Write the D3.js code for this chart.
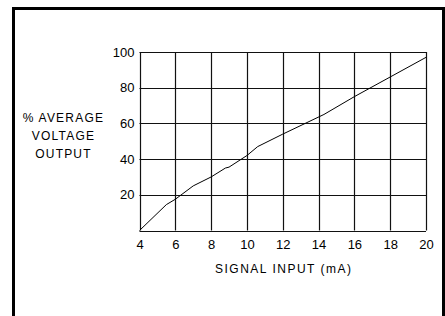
<!DOCTYPE html>
<html>
<head>
<meta charset="utf-8">
<script src="https://cdn.jsdelivr.net/npm/d3@7"></script>
<style>
  html, body { margin: 0; padding: 0; background: #fff; }
  svg { display: block; }
  text { font-family: "Liberation Sans", Arial, sans-serif; fill: #000; }
</style>
</head>
<body>
<svg id="chart" width="445" height="316"></svg>
<script>
const signalInput = [4, 5.5, 6, 7, 8, 8.8, 9, 10, 10.6, 12, 14.3, 16, 18, 20];
const avgVoltage  = [0, 14.5, 17.5, 25, 30, 35, 35.5, 42, 47, 54, 65, 75, 86, 97];
const xTicks = [4, 6, 8, 10, 12, 14, 16, 18, 20];
const yTicks = [20, 40, 60, 80, 100];
const yLabelLines = ["% AVERAGE", "VOLTAGE", "OUTPUT"];
const xLabel = "SIGNAL INPUT (mA)";

(function () {
const svg = d3.select("#chart");
const pL = 139.5, pR = 426, pT = 52, pB = 230.5;
const FONT = "Liberation Sans, Arial, sans-serif";

const x = d3.scaleLinear().domain([4, 20]).range([pL, pR]);
const y = d3.scaleLinear().domain([0, 100]).range([pB, pT]);

// outer frame
svg.append("rect")
  .attr("x", 13.5).attr("y", 8.5).attr("width", 430).attr("height", 320)
  .attr("fill", "none").attr("stroke", "#000").attr("stroke-width", 3);

// grid
const g = svg.append("g");
g.selectAll(".vgrid").data(xTicks).enter().append("line")
  .attr("x1", d => Math.round(x(d)) + 0.5).attr("x2", d => Math.round(x(d)) + 0.5)
  .attr("y1", pT).attr("y2", pB)
  .attr("stroke", "#111").attr("stroke-width", 1.2);
g.selectAll(".hgrid").data([0].concat(yTicks)).enter().append("line")
  .attr("x1", pL).attr("x2", pR)
  .attr("y1", d => Math.round(y(d)) + 0.5).attr("y2", d => Math.round(y(d)) + 0.5)
  .attr("stroke", "#111").attr("stroke-width", 1.2);

// axes labels via d3 axes (no domain/ticks lines)
const xAxis = svg.append("g")
  .attr("transform", `translate(0,${pB})`)
  .call(d3.axisBottom(x).tickValues(xTicks).tickSize(0).tickPadding(9).tickFormat(d3.format("d")));
xAxis.select(".domain").remove();
xAxis.selectAll("text").attr("font-size", 13).attr("font-family", FONT).attr("fill", "#000");

const yAxis = svg.append("g")
  .attr("transform", `translate(${pL},0)`)
  .call(d3.axisLeft(y).tickValues(yTicks).tickSize(0).tickPadding(5).tickFormat(d3.format("d")));
yAxis.select(".domain").remove();
yAxis.selectAll("text").attr("font-size", 13).attr("font-family", FONT).attr("fill", "#000");

// curve
const line = d3.line().x((d, i) => x(signalInput[i])).y(d => y(d));
svg.append("path")
  .datum(avgVoltage)
  .attr("d", line)
  .attr("fill", "none").attr("stroke", "#000").attr("stroke-width", 1);

// y label
const baselines = [122, 140, 158];
svg.selectAll(".ylab").data(yLabelLines).enter().append("text")
  .attr("x", 63.5).attr("y", (d, i) => baselines[i])
  .attr("text-anchor", "middle").attr("font-size", 12)
  .attr("letter-spacing", 1.2)
  .text(d => d);

// x label
svg.append("text")
  .attr("x", (pL + pR) / 2 + 1).attr("y", 273)
  .attr("text-anchor", "middle").attr("font-size", 12)
  .attr("letter-spacing", 1.5)
  .text(xLabel);
})();
</script>
</body>
</html>
